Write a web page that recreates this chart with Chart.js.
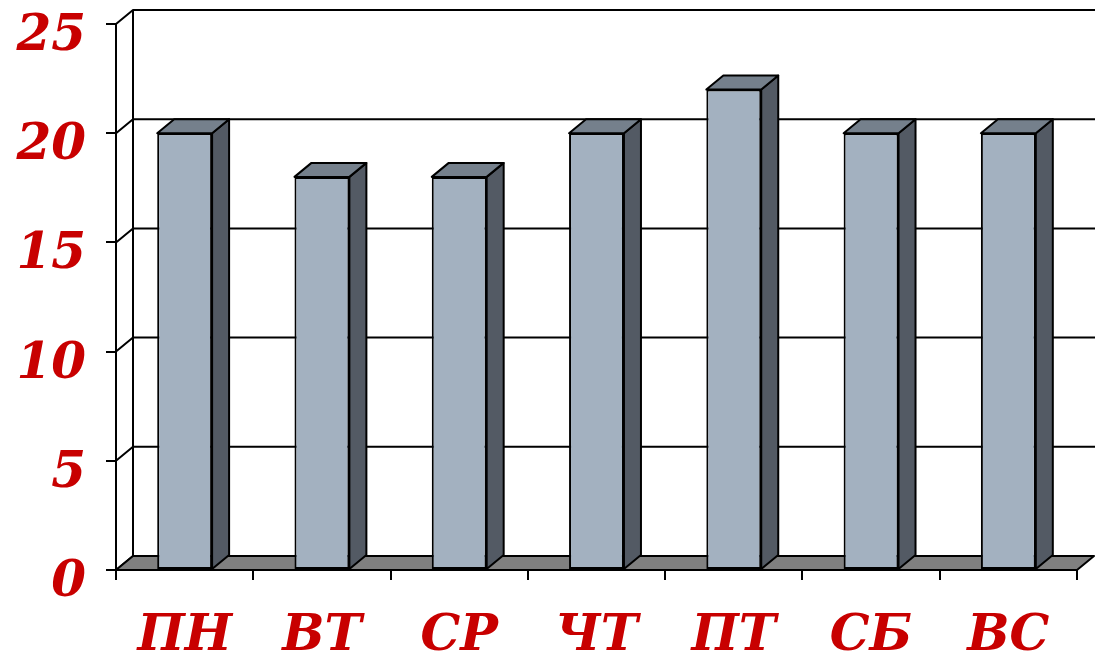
<!DOCTYPE html>
<html>
<head>
<meta charset="utf-8">
<script src="https://cdn.jsdelivr.net/npm/chart.js@4"></script>
<style>
html,body{margin:0;padding:0;background:#fff;}
#wrap{width:1095px;height:663px;position:relative;}
</style>
</head>
<body>
<div id="wrap"><canvas id="c" width="1095" height="663"></canvas></div>
<script>
const categories = ['ПН','ВТ','СР','ЧТ','ПТ','СБ','ВС'];
const values = [20, 18, 18, 20, 22, 20, 20];
const yMin = 0, yMax = 25, yStep = 5;

const DX = 17, DY = -14;
const labelColor = '#C80000';
const frontColor = '#A3B1C0';
const sideColor = '#535A64';
const topColor = '#75808C';
const floorColor = '#808080';

const walls = {
  id: 'walls',
  beforeDatasetsDraw(chart) {
    const {ctx, chartArea: a, scales: {y}} = chart;
    const W = chart.width;
    ctx.save();
    ctx.lineWidth = 2;
    ctx.strokeStyle = '#000';
    ctx.lineJoin = 'round';
    const yTop = y.getPixelForValue(yMax), y0 = y.getPixelForValue(yMin);
    ctx.beginPath();
    ctx.moveTo(a.left + DX, yTop + DY);
    ctx.lineTo(W + 5, yTop + DY);
    ctx.moveTo(a.left + DX, yTop + DY);
    ctx.lineTo(a.left + DX, y0 + DY);
    ctx.stroke();
    for (let v = yMin; v <= yMax; v += yStep) {
      const py = y.getPixelForValue(v);
      ctx.beginPath();
      ctx.moveTo(a.left, py);
      ctx.lineTo(a.left + DX, py + DY);
      if (v !== yMin) ctx.lineTo(W + 5, py + DY);
      ctx.stroke();
    }
    ctx.beginPath();
    ctx.moveTo(a.left, y0);
    ctx.lineTo(a.right, y0);
    ctx.lineTo(a.right + DX, y0 + DY);
    ctx.lineTo(a.left + DX, y0 + DY);
    ctx.closePath();
    ctx.fillStyle = floorColor;
    ctx.fill();
    ctx.stroke();
    ctx.restore();
  },
  afterDatasetsDraw(chart) {
    const {ctx} = chart;
    const meta = chart.getDatasetMeta(0);
    ctx.save();
    ctx.lineWidth = 2;
    ctx.strokeStyle = '#000';
    ctx.lineJoin = 'round';
    meta.data.forEach(bar => {
      const l = bar.x - bar.width / 2, r = bar.x + bar.width / 2;
      const t = bar.y, b = bar.base;
      ctx.beginPath();
      ctx.moveTo(r, b);
      ctx.lineTo(r + DX, b + DY);
      ctx.lineTo(r + DX, t + DY);
      ctx.lineTo(r, t);
      ctx.closePath();
      ctx.fillStyle = sideColor;
      ctx.fill();
      ctx.stroke();
      ctx.beginPath();
      ctx.moveTo(l, t);
      ctx.lineTo(r, t);
      ctx.lineTo(r + DX, t + DY);
      ctx.lineTo(l + DX, t + DY);
      ctx.closePath();
      ctx.fillStyle = topColor;
      ctx.fill();
      ctx.stroke();
    });
    ctx.restore();
  }
};

const serif = "'DejaVu Serif', serif";

new Chart(document.getElementById('c'), {
  type: 'bar',
  data: {
    labels: categories,
    datasets: [{
      data: values,
      backgroundColor: frontColor,
      borderColor: '#000',
      borderWidth: 2,
      borderSkipped: false,
      barPercentage: 0.4,
      categoryPercentage: 1.0
    }]
  },
  options: {
    responsive: false,
    animation: false,
    events: [],
    layout: {padding: {top: 24, right: 18, left: 0, bottom: 0}},
    plugins: {legend: {display: false}, tooltip: {enabled: false}},
    scales: {
      x: {
        offset: true,
        grid: {offset: true, drawOnChartArea: false, drawTicks: true, tickLength: 10, color: '#000', lineWidth: 2},
        border: {display: true, color: '#000', width: 2},
        ticks: {color: labelColor, font: {family: serif, size: 50, style: 'italic', weight: 'bold'}, padding: 27, maxRotation: 0, autoSkip: false},
        afterFit(s) { s.height = 93; s.paddingLeft = 0; s.paddingRight = 0; }
      },
      y: {
        min: yMin, max: yMax,
        grid: {drawOnChartArea: false, drawTicks: true, tickLength: 10, color: '#000', lineWidth: 2},
        border: {display: true, color: '#000', width: 2},
        ticks: {stepSize: yStep, color: labelColor, font: {family: serif, size: 50, style: 'italic', weight: 'bold'}, padding: 20, labelOffset: 13},
        afterFit(s) { s.width = 116; s.paddingTop = 0; s.paddingBottom = 0; }
      }
    }
  },
  plugins: [walls]
});
</script>
</body>
</html>
